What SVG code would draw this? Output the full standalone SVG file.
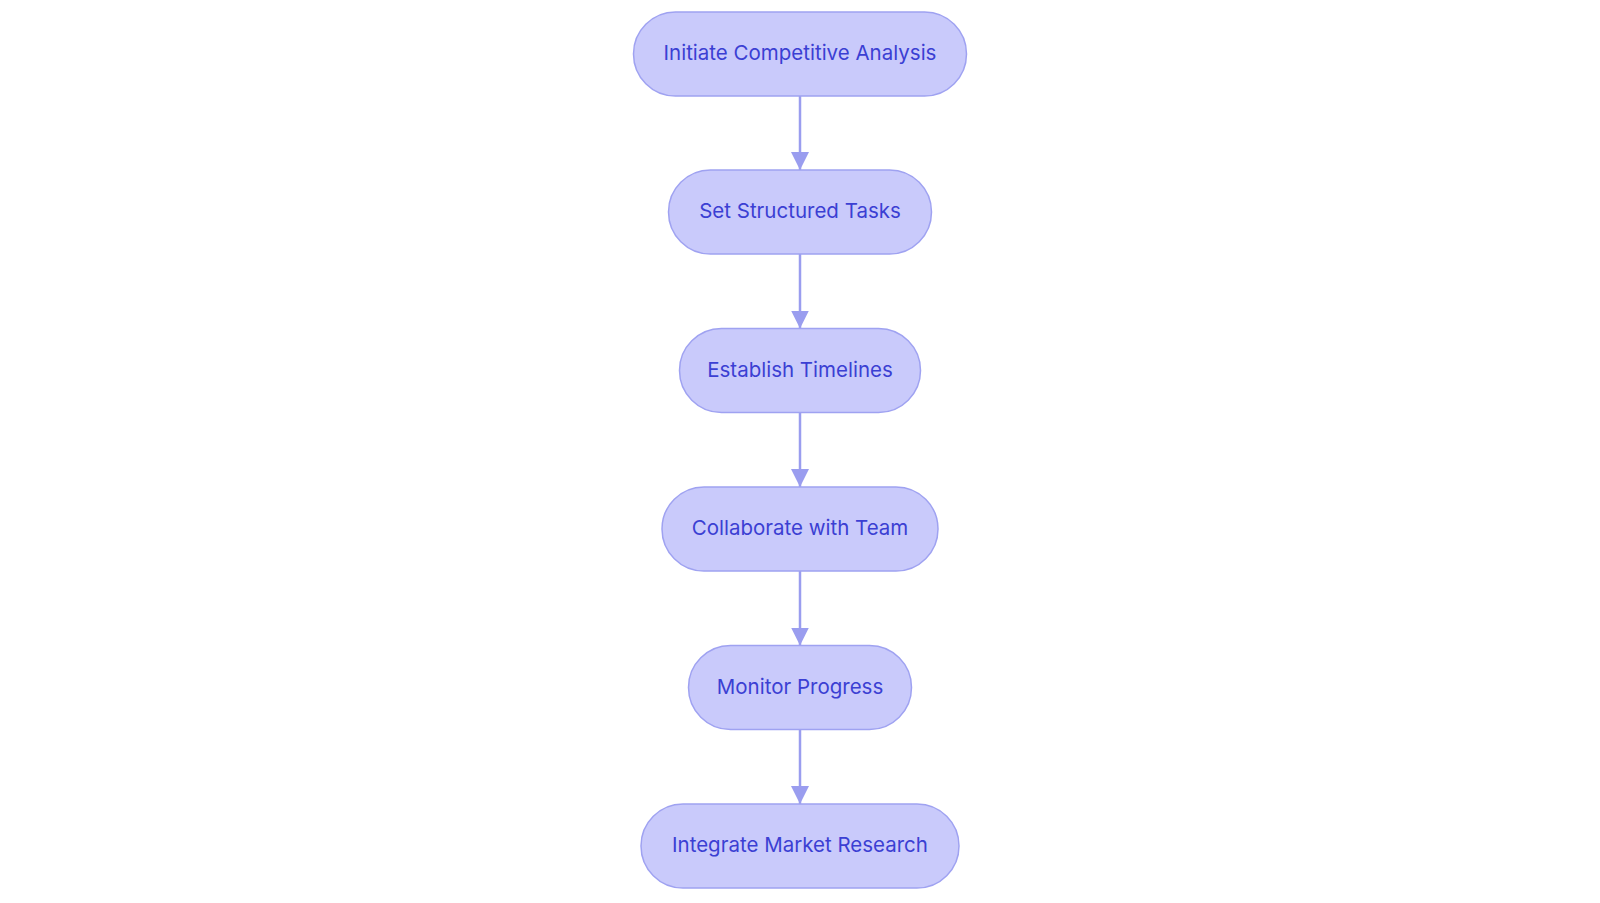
<svg xmlns="http://www.w3.org/2000/svg" width="1600" height="903" viewBox="0 0 1600 903">
<defs>
<style>
.node rect{fill:#c9cafb;stroke:#9fa2f1;stroke-width:1.5}
.node text{font-family:Inter,"Noto Sans","Liberation Sans",sans-serif;font-size:20.5px;font-weight:400;fill:#3b3fd3;text-anchor:middle}
.edge{stroke:#9a9def;stroke-width:2.5;fill:none}
</style>
<marker id="ah" markerUnits="userSpaceOnUse" markerWidth="20" markerHeight="20" refX="18" refY="9" orient="auto">
<path d="M0,0 L18,9 L0,18 z" fill="#9a9def"/>
</marker>
</defs>
<rect width="1600" height="903" fill="#ffffff"/>
<g id="connectors">
<line class="edge" x1="800" y1="96" x2="800" y2="170" marker-end="url(#ah)"/>
<line class="edge" x1="800" y1="254" x2="800" y2="328.5" marker-end="url(#ah)"/>
<line class="edge" x1="800" y1="412.5" x2="800" y2="487" marker-end="url(#ah)"/>
<line class="edge" x1="800" y1="571" x2="800" y2="645.5" marker-end="url(#ah)"/>
<line class="edge" x1="800" y1="729.5" x2="800" y2="804" marker-end="url(#ah)"/>
</g>
<g id="n1" class="node"><rect x="633.5" y="12" width="333" height="84" rx="42"/><text x="800" y="60">Initiate Competitive Analysis</text></g>
<g id="n2" class="node"><rect x="668.5" y="170" width="263" height="84" rx="42"/><text x="800" y="218">Set Structured Tasks</text></g>
<g id="n3" class="node"><rect x="679.5" y="328.5" width="241" height="84" rx="42"/><text x="800" y="376.5">Establish Timelines</text></g>
<g id="n4" class="node"><rect x="662" y="487" width="276" height="84" rx="42"/><text x="800" y="535">Collaborate with Team</text></g>
<g id="n5" class="node"><rect x="688.5" y="645.5" width="223" height="84" rx="42"/><text x="800" y="693.5">Monitor Progress</text></g>
<g id="n6" class="node"><rect x="641" y="804" width="318" height="84" rx="42"/><text x="800" y="852">Integrate Market Research</text></g>
</svg>
